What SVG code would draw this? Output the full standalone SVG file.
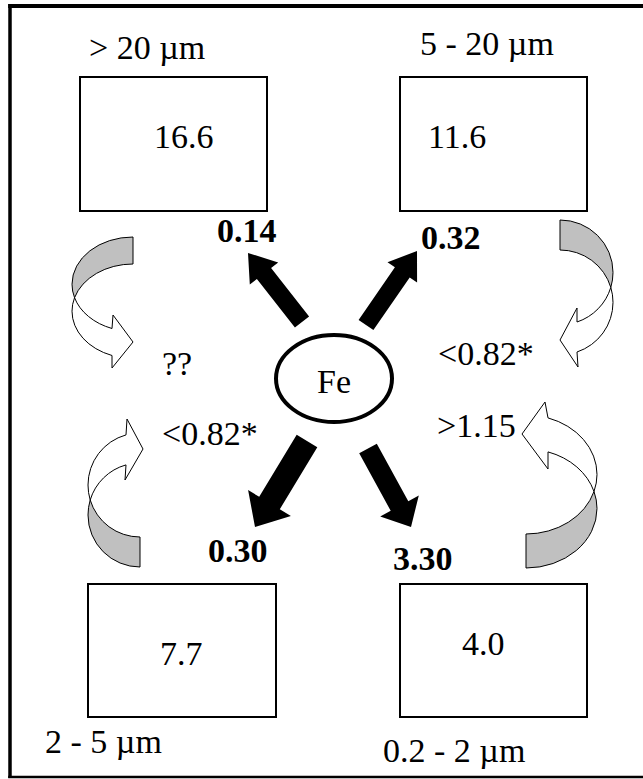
<svg xmlns="http://www.w3.org/2000/svg" width="643" height="779" viewBox="0 0 643 779">
<style>
text{font-family:"Liberation Serif","Times New Roman",serif;font-size:34px;fill:#000}
.b{font-weight:bold}
.box{fill:#fff;stroke:#000;stroke-width:2}
.thick{fill:#000;stroke:none}
.gray{fill:#c0c0c0;stroke:#000;stroke-width:1}
.white{fill:#fff;stroke:#000;stroke-width:1}
</style>
<rect width="643" height="779" fill="#fff"/>
<g id="frame" fill="none" stroke="#000">
<line x1="8.2" y1="6" x2="643" y2="6" stroke-width="4"/>
<line x1="10" y1="4" x2="10" y2="778" stroke-width="3.5"/>
<line x1="8.2" y1="777" x2="643" y2="777" stroke-width="2.5"/>
</g>
<g id="node-gt20">
<rect class="box" x="80" y="77" width="187" height="134"/>
<text x="89" y="59">&gt; 20 µm</text>
<text x="154" y="148">16.6</text>
</g>
<g id="node-5-20">
<rect class="box" x="400" y="77" width="187" height="134"/>
<text x="420" y="55">5 - 20 µm</text>
<text x="428" y="148">11.6</text>
</g>
<g id="node-2-5">
<rect class="box" x="88" y="584" width="188" height="133"/>
<text x="160" y="665">7.7</text>
<text x="45" y="753">2 - 5 µm</text>
</g>
<g id="node-0.2-2">
<rect class="box" x="400" y="584" width="187" height="133"/>
<text x="462" y="655">4.0</text>
<text x="383" y="762">0.2 - 2 µm</text>
</g>
<g id="node-fe">
<ellipse cx="334" cy="378.5" rx="58" ry="43.5" fill="#fff" stroke="#000" stroke-width="4"/>
<text x="334" y="393" text-anchor="middle">Fe</text>
</g>
<g id="connectors">
<polygon class="thick" points="309.1,316.5 271.1,268 278.2,262.4 248,253 249.8,284.6 256.9,279 294.9,327.5"/>
<polygon class="thick" points="373.4,330.1 409.7,277.5 417.1,282.6 417,251 387.5,262.2 394.9,267.3 358.6,319.9"/>
<polygon class="thick" points="317.3,447.2 279.8,509.2 290.9,515.9 255,527 248.1,490.1 259.2,496.8 296.7,434.8"/>
<polygon class="thick" points="376.8,443.7 408.3,501.2 418.8,495.4 411,527 380.2,516.6 390.7,510.8 359.2,453.3"/>
<g id="curved-tl">
<path class="gray" d="M133,237 A61,47.2 0 0 0 72,284.2 A61,47.2 0 0 0 74.55,297.7 A61,47.2 0 0 1 133,264 Z"/>
<path class="white" d="M74.55,297.7 A61,47.2 0 0 0 112,328.5 L113,315 L133,342 L112,368 L112,355.5 A61,47.2 0 0 1 72,311.2 A61,47.2 0 0 1 74.55,297.7 Z"/>
</g>
<g id="curved-tr">
<path class="gray" d="M560,220 A53,52.4 0 0 1 613,272.4 A53,52.4 0 0 1 610.8,287.4 A53,52.4 0 0 0 560,250 Z"/>
<path class="white" d="M610.8,287.4 A53,52.4 0 0 1 577,322 L577,308 L560,340 L578,367 L577,352 A53,52.4 0 0 0 613,302.4 A53,52.4 0 0 0 610.8,287.4 Z"/>
</g>
<g id="curved-bl">
<path class="gray" d="M140,567 A52,52 0 0 1 88,515 A52,52 0 0 1 90.2,500 A52,52 0 0 0 140,537 Z"/>
<path class="white" d="M90.2,500 A52,52 0 0 1 126,464.9 L125,480 L143,449 L127,419 L126,434.9 A52,52 0 0 0 88,485 A52,52 0 0 0 90.2,500 Z"/>
</g>
<g id="curved-br">
<path class="gray" d="M526,568 A71,59.5 0 0 0 597,508.5 A71,59.5 0 0 0 594,491.5 A71,59.5 0 0 1 526,534 Z"/>
<path class="white" d="M594,491.5 A71,59.5 0 0 0 548,451.9 L548,469 L522,434 L545,402 L548,417.9 A71,59.5 0 0 1 597,474.5 A71,59.5 0 0 1 594,491.5 Z"/>
</g>
</g>
<g id="labels">
<text class="b" x="217" y="242">0.14</text>
<text class="b" x="421" y="249">0.32</text>
<text class="b" x="208" y="562">0.30</text>
<text class="b" x="393" y="570">3.30</text>
<text x="162" y="375">??</text>
<text x="162" y="445">&lt;0.82*</text>
<text x="438" y="365">&lt;0.82*</text>
<text x="437" y="437">&gt;1.15</text>
</g>
</svg>
